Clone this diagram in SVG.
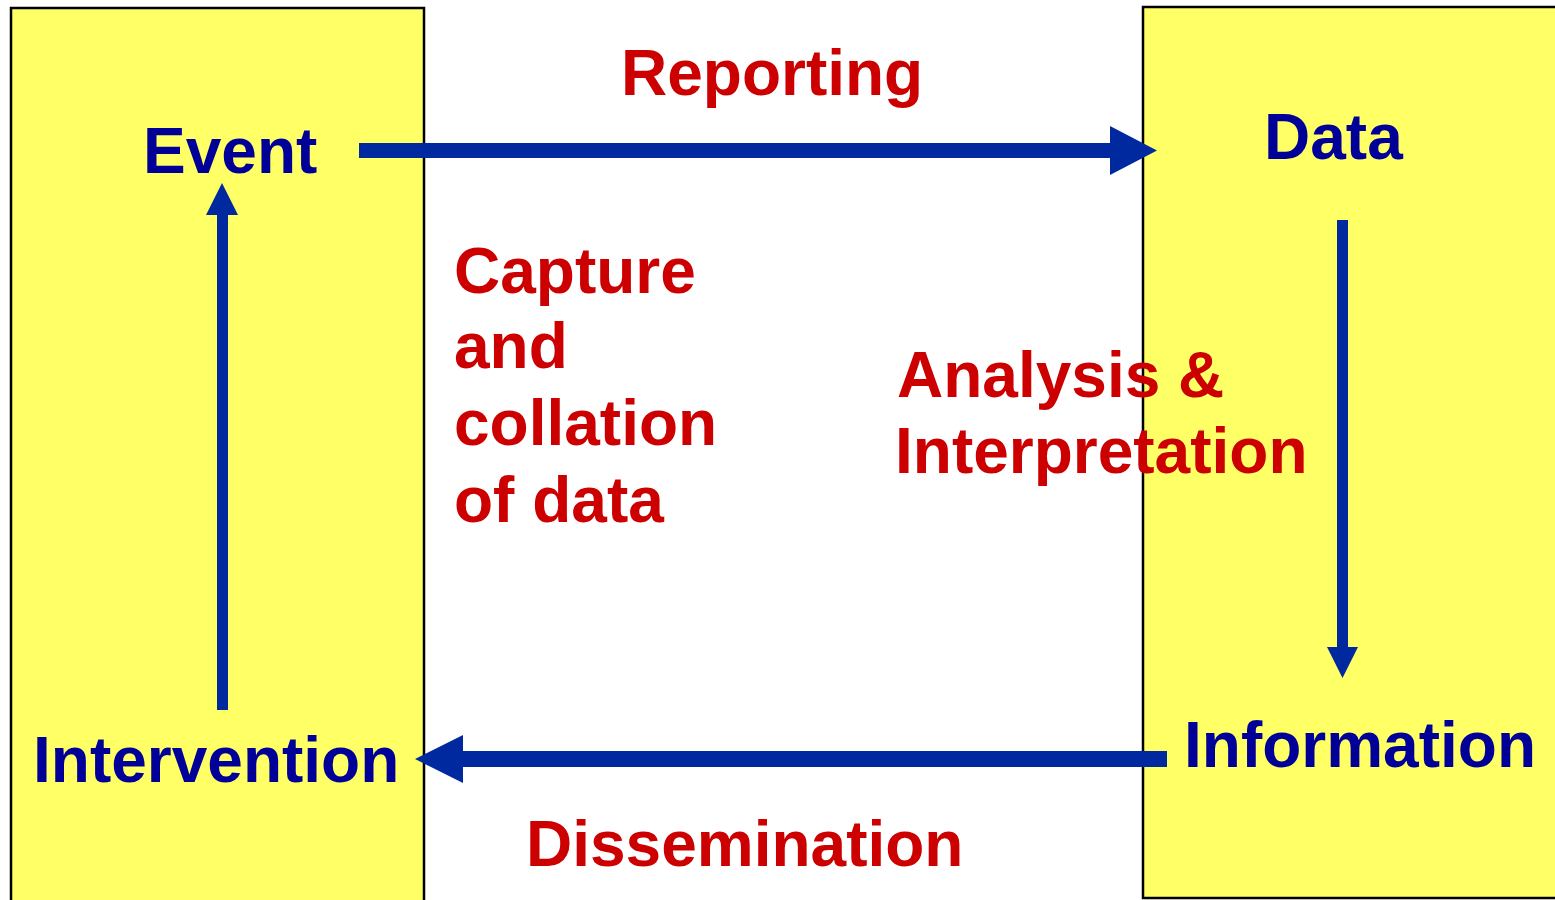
<svg xmlns="http://www.w3.org/2000/svg" width="1555" height="900" viewBox="0 0 1555 900">
<style>
.box{fill:#FFFF66;stroke:#000;stroke-width:2.5}
.node{font-family:"Liberation Sans",Arial,sans-serif;font-weight:bold;font-size:64px;fill:#000099}
.lbl{font-family:"Liberation Sans",Arial,sans-serif;font-weight:bold;font-size:64px;fill:#CC0000}
.arrow{fill:#0029A0}
</style>
<rect width="1555" height="900" fill="#fff"/>
<g id="left-panel"><rect class="box" x="11" y="8" width="413" height="900"/></g>
<g id="right-panel"><rect class="box" x="1143" y="7" width="420" height="891"/></g>
<g id="connectors">
<polygon class="arrow" points="359,143 1110,143 1110,126 1157,150.5 1110,175 1110,158 359,158"/>
<polygon class="arrow" points="1337,220 1348,220 1348,647 1358,647 1342.5,678 1327,647 1337,647"/>
<polygon class="arrow" points="1167,751 463,751 463,735 415,759 463,783 463,767 1167,767"/>
<polygon class="arrow" points="217,710 228,710 228,215 238,215 222,183 206,215 217,215"/>
</g>
<g id="event"><text class="node" x="143" y="173">Event</text></g>
<g id="data"><text class="node" x="1264" y="159">Data</text></g>
<g id="information"><text class="node" x="1184" y="767">Information</text></g>
<g id="intervention"><text class="node" x="33" y="782">Intervention</text></g>
<g id="labels">
<text class="lbl" x="621" y="95">Reporting</text>
<text class="lbl" x="454" y="293">Capture</text>
<text class="lbl" x="454" y="368">and</text>
<text class="lbl" x="454" y="445">collation</text>
<text class="lbl" x="454" y="522">of data</text>
<text class="lbl" x="897" y="397">Analysis &amp;</text>
<text class="lbl" x="895" y="473">Interpretation</text>
<text class="lbl" x="526" y="866">Dissemination</text>
</g>
</svg>
